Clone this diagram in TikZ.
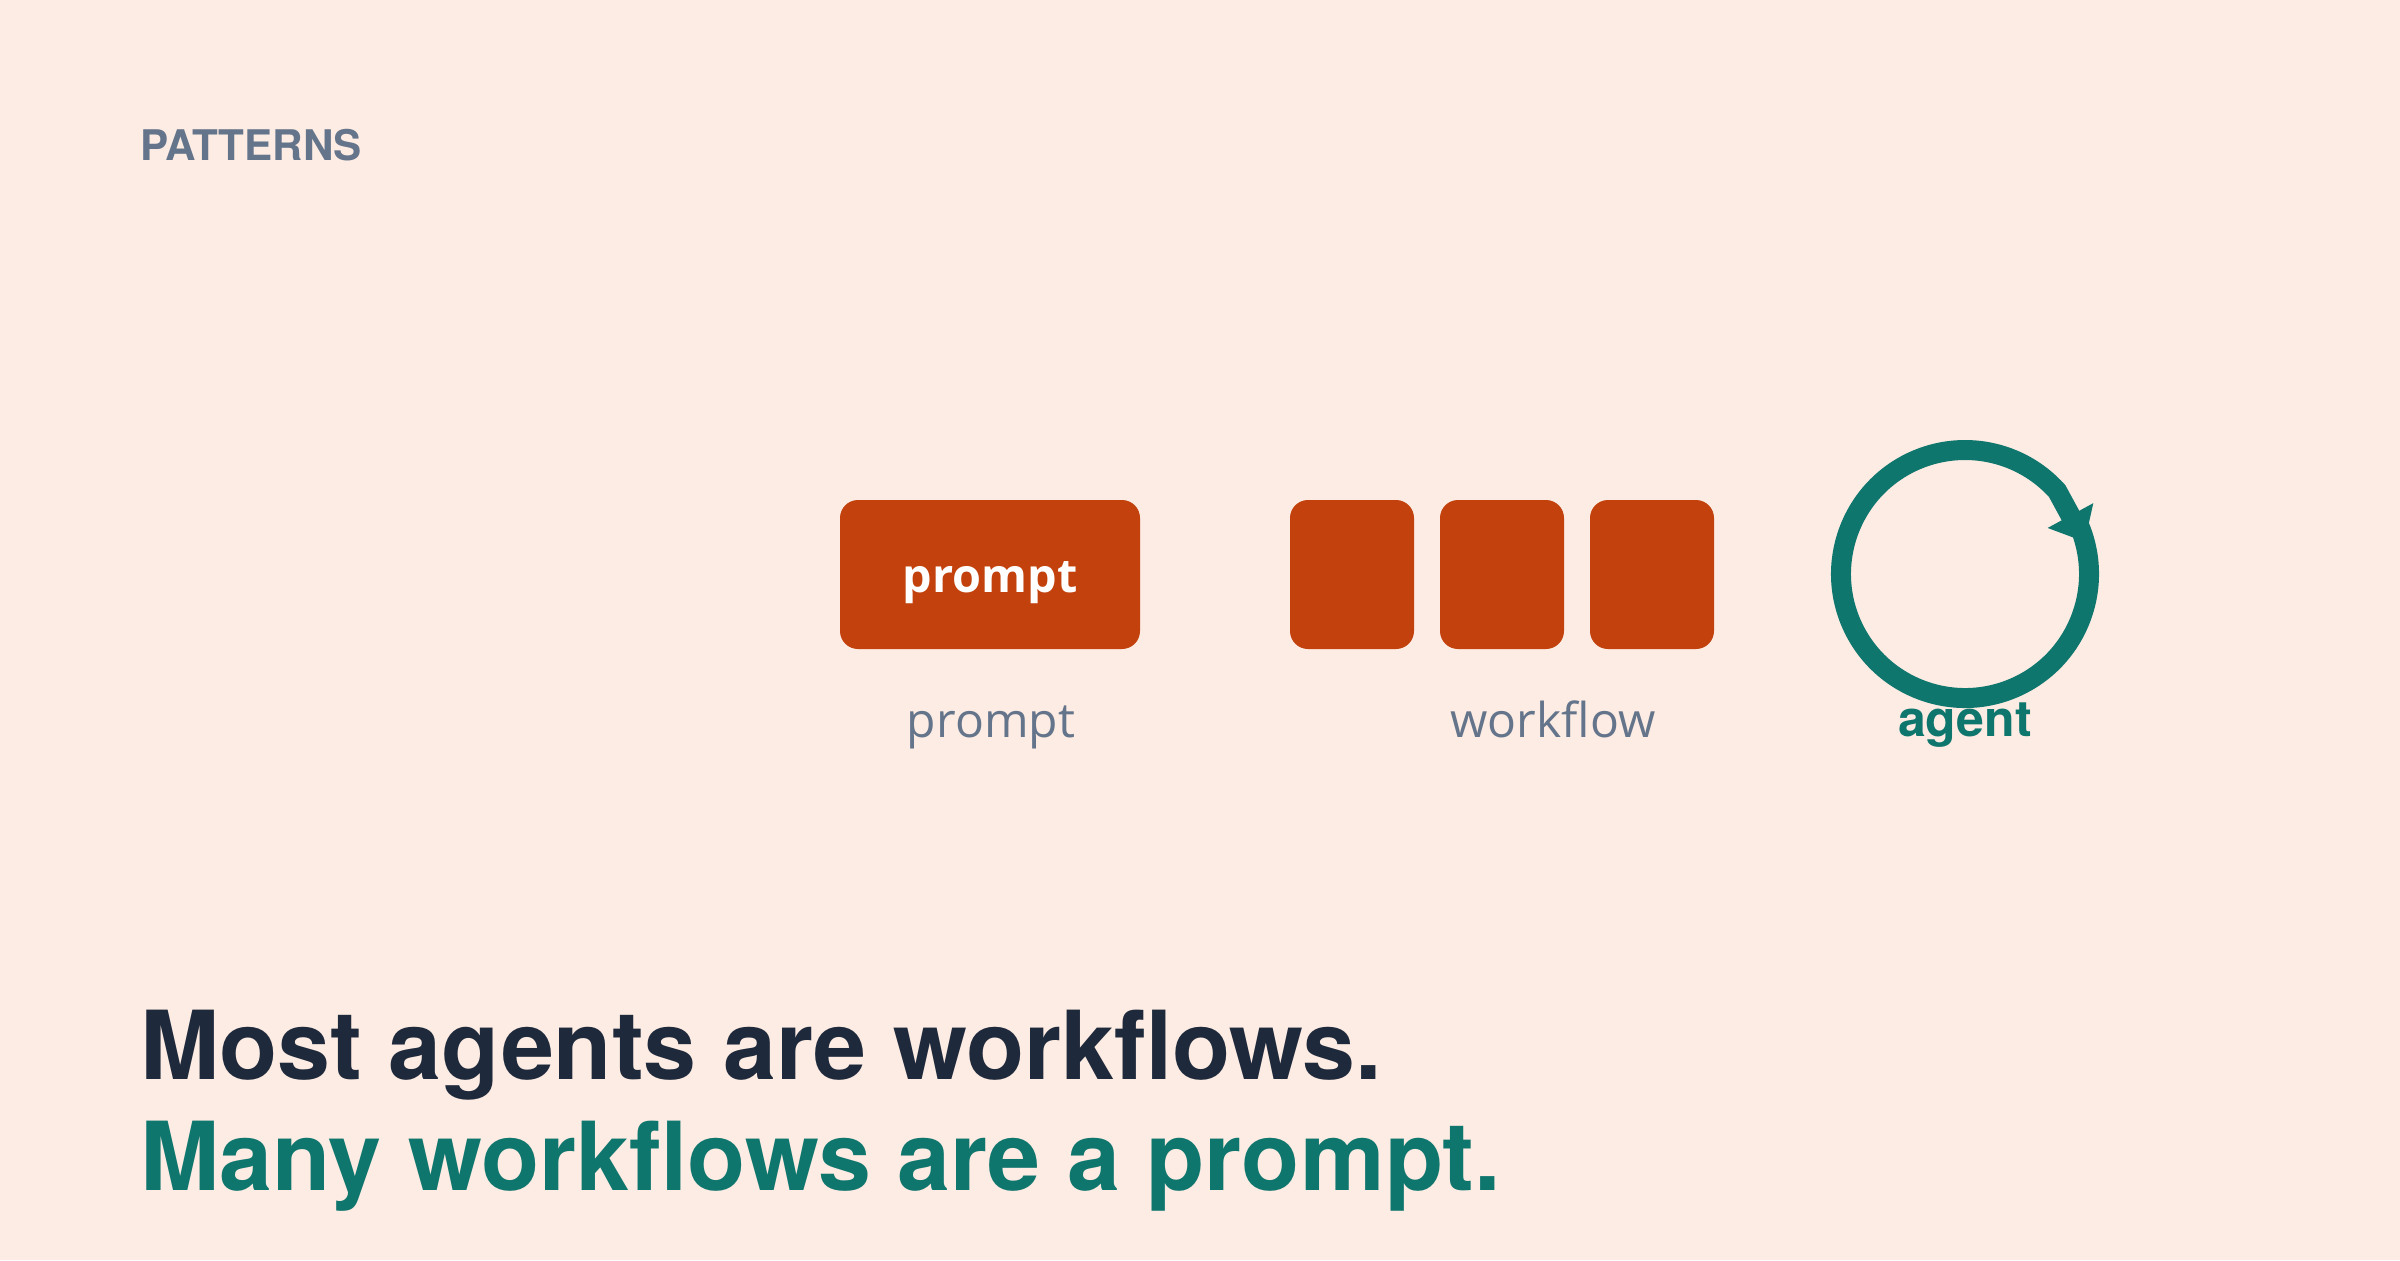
\documentclass[tikz,border=0pt]{standalone}
\usepackage{fontspec}
\usetikzlibrary{arrows.meta,calc}
\newfontfamily\heros{TeX Gyre Heros}
\newfontfamily\osans{Open Sans}
\definecolor{bgc}{HTML}{FDECE3}
\definecolor{boxc}{HTML}{C2410C}
\definecolor{tealc}{HTML}{0F766E}
\definecolor{slatec}{HTML}{64748B}
\definecolor{darkc}{HTML}{1E293B}
\begin{document}
\begin{tikzpicture}[x=0.5pt,y=0.5pt,
  box/.style={fill=boxc, rounded corners=9pt, inner sep=0pt, minimum height=74.5pt},
  lbl/.style={inner sep=0pt, anchor=base, text=slatec, font=\osans\fontsize{24}{24}\selectfont},
  head/.style={inner sep=0pt, anchor=base west, font=\heros\bfseries\fontsize{47.6}{47.6}\selectfont}]
\fill[bgc] (0,0) rectangle (2400,-1260);
\useasboundingbox (0,0) rectangle (2400,-1260);
% title
\node[inner sep=0pt, anchor=base west, text=slatec, font=\heros\bfseries\fontsize{21.1}{21.1}\selectfont] (title) at (140,-160) {PATTERNS};
% prompt box
\node[box, minimum width=150pt] (pbox) at (990,-574.5) {};
\node[inner sep=0pt, anchor=base, text=white, font=\osans\bfseries\fontsize{23.4}{23.4}\selectfont] (ptext) at (990,-592) {prompt};
\node[lbl] (plabel) at (991,-737) {prompt};
% workflow boxes
\node[box, minimum width=62pt] (w1) at (1352,-574.5) {};
\node[box, minimum width=62pt] (w2) at (1502,-574.5) {};
\node[box, minimum width=62pt] (w3) at (1652,-574.5) {};
\node[lbl] (wlabel) at (1553,-737) {workflow};
% agent loop
\coordinate (c) at (1965,-574);
\draw[tealc, line width=10pt, -{Triangle[width=25pt,length=15pt]}]
  ($(c)+(25:124)$) arc[start angle=25, end angle=-318, radius=124] -- ($(c)+(15:124)$);
\node[inner sep=0pt, anchor=base, text=tealc, font=\heros\bfseries\fontsize{25}{25}\selectfont] (alabel) at (1965,-736) {agent};
% headline
\node[head, text=darkc] (h1) at (140,-1079) {Most agents are workflows.};
\node[head, text=tealc] (h2) at (140,-1190) {Many workflows are a prompt.};
\end{tikzpicture}
\end{document}
